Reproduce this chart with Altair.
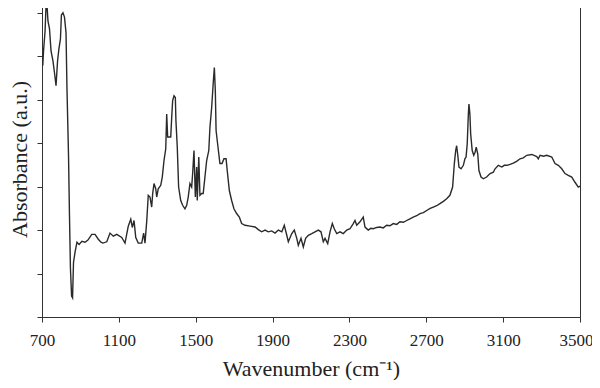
import altair as alt
import pandas as pd

wavenumber = [704, 708, 716, 723, 731, 739, 747, 757, 765, 773, 781, 788, 796, 801, 809, 817, 825, 830, 838, 843,
              848, 854, 859, 864, 872, 882, 893, 908, 924, 939, 959, 976, 993, 1007, 1017, 1037, 1054, 1071, 1089, 1115,
              1132, 1149, 1162, 1170, 1179, 1188, 1201, 1219, 1229, 1236, 1245, 1253, 1262, 1271, 1276, 1283, 1292, 1297,
              1305, 1318, 1326, 1335, 1344, 1349, 1354, 1363, 1370, 1375, 1380, 1387, 1394, 1397, 1404, 1411, 1422, 1432,
              1444, 1453, 1461, 1470, 1479, 1484, 1491, 1498, 1505, 1508, 1516, 1522, 1531, 1539, 1548, 1557, 1568, 1574,
              1583, 1592, 1597, 1602, 1606, 1618, 1626, 1637, 1647, 1658, 1664, 1675, 1687, 1699, 1713, 1727, 1739, 1757,
              1783, 1809, 1826, 1843, 1861, 1878, 1895, 1913, 1930, 1948, 1961, 1974, 1982, 2000, 2013, 2026, 2034, 2048,
              2060, 2072, 2086, 2104, 2121, 2138, 2152, 2164, 2173, 2187, 2199, 2211, 2221, 2234, 2251, 2268, 2286, 2303,
              2320, 2329, 2338, 2355, 2372, 2381, 2398, 2411, 2424, 2442, 2459, 2476, 2494, 2511, 2528, 2546, 2563, 2581,
              2598, 2615, 2632, 2650, 2667, 2685, 2702, 2720, 2737, 2754, 2771, 2789,
              2806, 2823, 2837, 2846, 2853, 2858, 2864, 2870, 2881, 2893, 2901, 2907, 2913, 2919, 2922, 2927, 2931, 2939,
              2947, 2954, 2960, 2968, 2974, 2985, 2997, 3014, 3032, 3049, 3058, 3075, 3093, 3106, 3119, 3136, 3153, 3170,
              3188, 3205, 3223, 3249, 3275, 3283, 3292, 3310, 3327, 3353, 3370, 3387, 3405, 3422, 3439, 3457, 3474, 3491, 3500]

absorbance = [5.78, 6.12, 6.58, 7.40, 6.81, 6.63, 6.12, 5.89, 5.62, 5.32, 5.89, 6.17, 6.40, 6.95, 7.00, 6.90, 6.54, 5.25, 3.72, 2.34,
              1.12, 0.48, 0.44, 1.26, 1.49, 1.72, 1.67, 1.74, 1.72, 1.77, 1.90, 1.90, 1.79, 1.72, 1.70, 1.73, 1.93, 1.86, 1.90, 1.83,
              1.70, 2.09, 2.25, 2.06, 2.22, 1.83, 1.70, 1.70, 1.93, 1.70, 2.20, 2.80, 2.76, 2.53, 2.84, 3.07, 2.95, 2.76,
              2.95, 3.03, 3.22, 3.60, 3.87, 4.67, 4.14, 4.14, 4.14, 4.59, 4.98, 5.09, 5.05, 4.52, 3.91, 2.99, 2.68, 2.57,
              2.49, 2.57, 2.76, 3.07, 2.99, 3.30, 3.83, 2.76, 3.45, 2.68, 3.68, 2.80, 2.84, 2.84, 3.22, 3.60, 3.83, 4.36,
              4.82, 5.44, 5.74, 5.21, 4.29, 3.83, 3.53, 3.53, 3.64, 3.64, 3.37, 2.91, 2.68, 2.49, 2.38, 2.30, 2.15, 2.11,
              2.09, 2.07, 2.01, 1.96, 2.00, 1.96, 1.98, 1.93, 2.00, 1.96, 2.11, 1.88, 1.73, 1.92, 2.00, 1.81, 1.65, 1.81,
              1.61, 1.81, 1.88, 1.92, 1.96, 2.00, 1.96, 1.73, 1.81, 1.69, 1.96, 2.15, 2.03, 1.92, 1.96, 1.92, 2.00, 2.03,
              2.15, 2.22, 2.11, 2.19, 2.30, 2.07, 2.00, 2.04, 2.03, 2.06, 2.07, 2.05, 2.11, 2.10, 2.15, 2.13, 2.19, 2.18,
              2.22, 2.26, 2.30, 2.33, 2.38, 2.40, 2.45, 2.50, 2.53, 2.56, 2.61, 2.66,
              2.72, 2.80, 2.99, 3.53, 3.83, 3.94, 3.72, 3.45, 3.41, 3.49, 3.64, 3.68, 3.98, 4.67, 4.90, 4.67, 4.21, 3.83,
              3.72, 3.79, 3.91, 3.75, 3.37, 3.22, 3.18, 3.22, 3.30, 3.33, 3.41, 3.49, 3.45, 3.49, 3.49, 3.51, 3.54, 3.58,
              3.64, 3.66, 3.72, 3.74, 3.69, 3.64, 3.72, 3.70, 3.72, 3.68, 3.53, 3.49, 3.41, 3.30, 3.26, 3.22, 3.10, 2.99, 3.01]

x_ticks = [700, 1100, 1500, 1900, 2300, 2700, 3100, 3500]
y_ticks = [0, 1, 2, 3, 4, 5, 6, 7]

df = pd.DataFrame({"wavenumber": wavenumber, "absorbance": absorbance})

font = "Liberation Serif"

chart = alt.Chart(df).mark_line(color="#2a2a2a", strokeWidth=1.4, clip=True).encode(
    x=alt.X("wavenumber:Q",
            scale=alt.Scale(domain=[700, 3500], nice=False, zero=False),
            axis=alt.Axis(values=x_ticks, format="d", title="Wavenumber (cm⁻¹)", grid=False,
                          labelFont=font, labelFontSize=17, labelColor="#222",
                          labelOffset={"condition": {"test": "datum.value == 3500", "value": -4}, "value": 0},
                          titleFont=font, titleFontSize=22, titleFontWeight="normal", titleColor="#222",
                          tickSize=5, tickColor="#333", domainColor="#333",
                          labelPadding=10, titlePadding=10, labelFlush=False)),
    y=alt.Y("absorbance:Q",
            scale=alt.Scale(domain=[0, 7.27], nice=False),
            axis=alt.Axis(values=y_ticks, labels=False, title="Absorbance (a.u.)", grid=False,
                          titleFont=font, titleFontSize=22, titleFontWeight="normal", titleColor="#222",
                          tickSize=5, tickColor="#333", domainColor="#333", titlePadding=5)),
).properties(
    width=538, height=316,
    autosize=alt.AutoSizeParams(type="none"),
    padding={"left": 34, "top": -7, "right": 12, "bottom": 63},
).configure_view(stroke="#333", strokeWidth=1)

chart.save("out.html", embed_options={"renderer": "svg", "actions": False})
